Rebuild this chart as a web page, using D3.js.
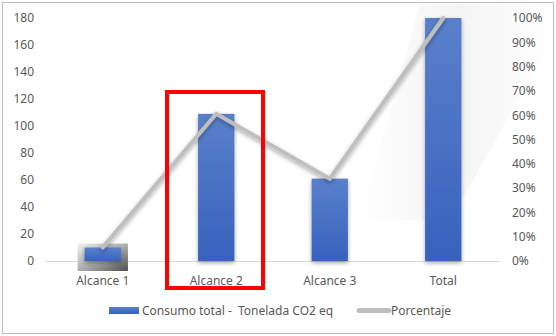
<!DOCTYPE html>
<meta charset="utf-8">
<style>
body { margin: 0; background: #fff; }
text { font-family: "Noto Sans", "Liberation Sans", sans-serif; fill: #595959; white-space: pre; }
.axis path, .axis line { display: none; }
</style>
<svg width="556" height="336"></svg>
<script src="https://cdn.jsdelivr.net/npm/d3@7"></script>
<script>

var categories = ["Alcance 1", "Alcance 2", "Alcance 3", "Total"];
var consumo = [10, 109, 61, 180];
var porcentaje = [0.056, 0.606, 0.339, 1.0];
var leftTicks = [0, 20, 40, 60, 80, 100, 120, 140, 160, 180];
var rightTicks = [0, 0.1, 0.2, 0.3, 0.4, 0.5, 0.6, 0.7, 0.8, 0.9, 1.0];
var seriesNames = ["Consumo total -  Tonelada CO2 eq", "Porcentaje"];

var svg = d3.select("svg"),
    width = +svg.attr("width"),
    height = +svg.attr("height");

var margin = {top: 18, right: 56, bottom: 75, left: 46};

var x = d3.scaleBand()
    .domain(categories)
    .range([margin.left, width - margin.right])
    .paddingInner(0.68)
    .paddingOuter(0.34);

var y = d3.scaleLinear().domain([0, 180]).range([height - margin.bottom, margin.top]);
var y2 = d3.scaleLinear().domain([0, 1]).range([height - margin.bottom, margin.top]);

var defs = svg.append("defs");

var bg = defs.append("linearGradient").attr("id", "barGrad")
    .attr("x1", 0).attr("y1", 0).attr("x2", 0).attr("y2", 1);
bg.append("stop").attr("offset", "0%").attr("stop-color", "#5a80cb");
bg.append("stop").attr("offset", "100%").attr("stop-color", "#3762bd");

var hg = defs.append("linearGradient").attr("id", "hiGrad")
    .attr("x1", 0).attr("y1", 0).attr("x2", 1).attr("y2", 1);
hg.append("stop").attr("offset", "0%").attr("stop-color", "#f2f2f2");
hg.append("stop").attr("offset", "55%").attr("stop-color", "#a6a6a6");
hg.append("stop").attr("offset", "100%").attr("stop-color", "#4d4d4d");

var sheen = defs.append("linearGradient").attr("id", "sheen")
    .attr("x1", 0).attr("y1", 0).attr("x2", 1).attr("y2", 0);
sheen.append("stop").attr("offset", "0%").attr("stop-color", "#f4f4f4").attr("stop-opacity", 0);
sheen.append("stop").attr("offset", "50%").attr("stop-color", "#f4f4f4").attr("stop-opacity", 1);
sheen.append("stop").attr("offset", "100%").attr("stop-color", "#f4f4f4").attr("stop-opacity", 0);

var sh = defs.append("filter").attr("id", "shadow")
    .attr("x", "-50%").attr("y", "-50%").attr("width", "200%").attr("height", "200%");
sh.append("feDropShadow").attr("dx", 0).attr("dy", 2).attr("stdDeviation", 2)
    .attr("flood-color", "#000").attr("flood-opacity", 0.35);

// chart border
svg.append("rect")
    .attr("x", 2.5).attr("y", 2.5)
    .attr("width", width - 5).attr("height", height - 5)
    .attr("fill", "#fff").attr("stroke", "#bfbfbf");

// faint diagonal background sheen
svg.append("path")
    .attr("d", "M420,4 L553,4 L553,40 L450,220 L360,220 Z")
    .attr("fill", "url(#sheen)");

// left axis
svg.append("g")
    .attr("class", "axis")
    .attr("transform", "translate(" + (margin.left - 12) + ",0)")
    .call(d3.axisLeft(y).tickValues(leftTicks).tickSize(0).tickPadding(0))
    .selectAll("text").style("font-size", "12px").style("font-family", null);

// right axis
svg.append("g")
    .attr("class", "axis")
    .attr("transform", "translate(" + (width - margin.right + 12) + ",0)")
    .call(d3.axisRight(y2).tickValues(rightTicks).tickSize(0).tickPadding(0)
        .tickFormat(d3.format(".0%")))
    .selectAll("text").style("font-size", "12px").style("font-family", null);

// baseline
svg.append("line")
    .attr("x1", margin.left).attr("x2", width - margin.right)
    .attr("y1", y(0) + 0.5).attr("y2", y(0) + 0.5)
    .attr("stroke", "#d9d9d9").attr("stroke-width", 1);

// highlight behind Alcance 1
svg.append("rect")
    .attr("x", x(categories[0]) - 7)
    .attr("y", y(consumo[0]) - 4)
    .attr("width", x.bandwidth() + 14)
    .attr("height", y(0) - y(consumo[0]) + 14)
    .attr("fill", "url(#hiGrad)");

// bars
svg.append("g")
  .selectAll("rect")
    .data(consumo)
    .enter().append("rect")
    .attr("x", function(d, i) { return x(categories[i]); })
    .attr("y", function(d) { return y(d); })
    .attr("width", x.bandwidth())
    .attr("height", function(d) { return y(0) - y(d); })
    .attr("fill", "url(#barGrad)")
    .attr("filter", "url(#shadow)");

// percentage line
var line = d3.line()
    .x(function(d, i) { return x(categories[i]) + x.bandwidth() / 2; })
    .y(function(d) { return y2(d); });

svg.append("path")
    .datum(porcentaje)
    .attr("d", line)
    .attr("fill", "none")
    .attr("stroke", "#bfbfbf")
    .attr("stroke-width", 4)
    .attr("stroke-linecap", "round")
    .attr("stroke-linejoin", "miter")
    .attr("filter", "url(#shadow)");

// category labels
svg.append("g")
  .selectAll("text")
    .data(categories)
    .enter().append("text")
    .attr("x", function(d) { return x(d) + x.bandwidth() / 2; })
    .attr("y", y(0) + 24)
    .attr("text-anchor", "middle")
    .style("font-size", "12px")
    .text(function(d) { return d; });

// red highlight box around Alcance 2
svg.append("rect")
    .attr("x", 167).attr("y", 92)
    .attr("width", 96).attr("height", 196)
    .attr("fill", "none")
    .attr("stroke", "#ff0000")
    .attr("stroke-width", 4);

// legend
var lg = svg.append("g").attr("transform", "translate(0,310)");
lg.append("rect")
    .attr("x", 109).attr("y", -3).attr("width", 30).attr("height", 7)
    .attr("fill", "url(#barGrad)");
lg.append("text").attr("x", 142).attr("y", 4.5)
    .style("font-size", "12px").text(seriesNames[0]);
lg.append("line")
    .attr("x1", 359).attr("x2", 389).attr("y1", 0.5).attr("y2", 0.5)
    .attr("stroke", "#bfbfbf").attr("stroke-width", 5).attr("stroke-linecap", "round");
lg.append("text").attr("x", 391).attr("y", 4.5)
    .style("font-size", "12px").text(seriesNames[1]);

</script>
